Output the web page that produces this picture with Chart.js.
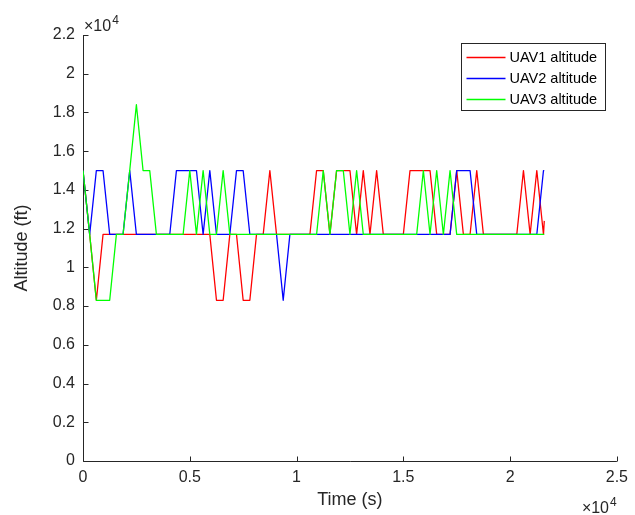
<!DOCTYPE html>
<html>
<head>
<meta charset="utf-8">
<script src="https://cdn.jsdelivr.net/npm/chart.js@4.4.0/dist/chart.umd.min.js"></script>
<style>
html, body { margin: 0; padding: 0; background: #fff; }
#wrap { width: 635px; height: 515px; }
</style>
</head>
<body>
<div id="wrap"><canvas id="altChart"></canvas></div>
<script>
// time samples (s)
const times = [
    0, 313, 625, 938, 1250, 1563, 1875, 2188, 2500, 2813,
    3125, 3438, 3750, 4063, 4375, 4688, 5000, 5313, 5625, 5938,
    6250, 6563, 6875, 7188, 7500, 7813, 8125, 8438, 8750, 9063,
    9375, 9688, 10000, 10313, 10625, 10938, 11250, 11563, 11875, 12188,
    12500, 12813, 13125, 13438, 13750, 14063, 14375, 14688, 15000, 15313,
    15625, 15938, 16250, 16563, 16875, 17188, 17500, 17813, 18125, 18438,
    18750, 19063, 19375, 19688, 20000, 20313, 20625, 20938, 21250, 21563,
    21600
];

// altitude (ft)
const uav1Alt = [
    15000, 11700, 8300, 11700, 11700, 11700, 11700, 11700, 11700, 11700,
    11700, 11700, 11700, 11700, 11700, 11700, 11700, 11700, 11700, 11700,
    8300, 8300, 11700, 11700, 8300, 8300, 11700, 11700, 15000, 11700,
    11700, 11700, 11700, 11700, 11700, 15000, 15000, 11700, 15000, 15000,
    15000, 11700, 15000, 11700, 15000, 11700, 11700, 11700, 11700, 15000,
    15000, 15000, 15000, 11700, 11700, 11700, 15000, 11700, 11700, 15000,
    11700, 11700, 11700, 11700, 11700, 11700, 15000, 11700, 15000, 11700,
    12400
];
const uav2Alt = [
    15000, 11700, 15000, 15000, 11700, 11700, 11700, 15000, 11700, 11700,
    11700, 11700, 11700, 11700, 15000, 15000, 15000, 15000, 11700, 15000,
    11700, 11700, 11700, 15000, 15000, 11700, 11700, 11700, 11700, 11700,
    8300, 11700, 11700, 11700, 11700, 11700, 11700, 11700, 11700, 11700,
    11700, 11700, 11700, 11700, 11700, 11700, 11700, 11700, 11700, 11700,
    11700, 11700, 11700, 11700, 11700, 11700, 15000, 15000, 15000, 11700,
    11700, 11700, 11700, 11700, 11700, 11700, 11700, 11700, 11700, 15000,
    15000
];
const uav3Alt = [
    15000, 11700, 8300, 8300, 8300, 11700, 11700, 15000, 18400, 15000,
    15000, 11700, 11700, 11700, 11700, 11700, 15000, 11700, 15000, 11700,
    11700, 15000, 11700, 11700, 11700, 11700, 11700, 11700, 11700, 11700,
    11700, 11700, 11700, 11700, 11700, 11700, 15000, 11700, 15000, 15000,
    11700, 15000, 11700, 11700, 11700, 11700, 11700, 11700, 11700, 11700,
    11700, 15000, 11700, 15000, 11700, 15000, 11700, 11700, 11700, 11700,
    11700, 11700, 11700, 11700, 11700, 11700, 11700, 11700, 11700, 11700,
    11700
];

const seriesLabels = ['UAV1 altitude', 'UAV2 altitude', 'UAV3 altitude'];
const seriesColors = ['#ff0000', '#0000ff', '#00ff00'];
const xTicks = [0, 5000, 10000, 15000, 20000, 25000];
const yTicks = [0, 2000, 4000, 6000, 8000, 10000, 12000, 14000, 16000, 18000, 20000, 22000];

const FONT = '"Liberation Sans", Arial, Helvetica, sans-serif';
const AXIS_COLOR = '#262626';

function toPoints(vals) {
    return vals.map((v, i) => ({ x: times[i], y: v }));
}

function fmtTick(v) {
    return String(Number((v / 1e4).toFixed(1)));
}

// MATLAB-ish axes: left + bottom lines, inward ticks, x10^4 factors, boxed legend
const matlabAxes = {
    id: 'matlabAxes',
    beforeDatasetsDraw(chart) {
        const { ctx, chartArea: a, scales: { x, y } } = chart;
        ctx.save();
        ctx.strokeStyle = AXIS_COLOR;
        ctx.lineWidth = 1;
        ctx.beginPath();
        const left = Math.round(a.left) + 0.5;
        const bottom = Math.round(a.bottom) + 0.5;
        ctx.moveTo(left, a.top);
        ctx.lineTo(left, bottom);
        ctx.lineTo(a.right, bottom);
        xTicks.forEach(v => {
            const px = Math.round(x.getPixelForValue(v)) + 0.5;
            ctx.moveTo(px, bottom);
            ctx.lineTo(px, bottom - 5);
        });
        yTicks.forEach(v => {
            const py = Math.round(y.getPixelForValue(v)) + 0.5;
            ctx.moveTo(left, py);
            ctx.lineTo(left + 5, py);
        });
        ctx.stroke();
        ctx.restore();
    },
    afterDraw(chart) {
        const { ctx, chartArea: a } = chart;
        ctx.save();
        ctx.fillStyle = AXIS_COLOR;
        ctx.textBaseline = 'alphabetic';
        ctx.textAlign = 'left';

        const drawFactor = (x0, yBase) => {
            ctx.font = '16px ' + FONT;
            ctx.fillText('\u00d710', x0, yBase);
            const w = ctx.measureText('\u00d710').width;
            ctx.font = '12px ' + FONT;
            ctx.fillText('4', x0 + w + 1, yBase - 7);
        };
        drawFactor(a.left + 1, a.top - 4);
        drawFactor(a.right - 35, a.bottom + 52);

        // legend
        const lx = 461.5, ly = 43.5, lw = 144, lh = 67;
        ctx.fillStyle = '#ffffff';
        ctx.fillRect(lx, ly, lw, lh);
        ctx.strokeStyle = AXIS_COLOR;
        ctx.lineWidth = 1;
        ctx.strokeRect(lx, ly, lw, lh);
        ctx.font = '14.5px ' + FONT;
        ctx.textBaseline = 'middle';
        seriesLabels.forEach((lab, i) => {
            const yy = Math.round(ly + 13 + i * 21) + 0.5;
            ctx.strokeStyle = seriesColors[i];
            ctx.lineWidth = 1.3;
            ctx.beginPath();
            ctx.moveTo(lx + 5, yy);
            ctx.lineTo(lx + 44, yy);
            ctx.stroke();
            ctx.fillStyle = '#000000';
            ctx.fillText(lab, lx + 48, yy);
        });
        ctx.restore();
    }
};

const ctx = document.getElementById('altChart').getContext('2d');
const altChart = new Chart(ctx, {
    type: 'line',
    data: {
        datasets: [
            { label: seriesLabels[0], data: toPoints(uav1Alt), borderColor: seriesColors[0], order: 2 },
            { label: seriesLabels[1], data: toPoints(uav2Alt), borderColor: seriesColors[1], order: 1 },
            { label: seriesLabels[2], data: toPoints(uav3Alt), borderColor: seriesColors[2], order: 0 }
        ]
    },
    options: {
        responsive: true,
        maintainAspectRatio: false,
        animation: false,
        datasets: {
            line: { borderWidth: 1.3, borderJoinStyle: 'round', pointRadius: 0, tension: 0, fill: false }
        },
        layout: { padding: { left: 0, top: 35, right: 13, bottom: 0 } },
        scales: {
            x: {
                type: 'linear',
                min: 0,
                max: 25000,
                afterBuildTicks: s => { s.ticks = xTicks.map(v => ({ value: v })); },
                afterFit: s => { s.height = 54; },
                ticks: {
                    callback: fmtTick,
                    color: AXIS_COLOR,
                    font: { family: FONT, size: 16 },
                    padding: 7,
                    maxRotation: 0,
                    autoSkip: false
                },
                grid: { display: false, drawTicks: false },
                border: { display: false },
                title: {
                    display: true,
                    text: 'Time (s)',
                    color: AXIS_COLOR,
                    font: { family: FONT, size: 18 },
                    padding: { top: 0, bottom: 4 }
                }
            },
            y: {
                type: 'linear',
                min: 0,
                max: 22000,
                afterBuildTicks: s => { s.ticks = yTicks.map(v => ({ value: v })); },
                afterFit: s => { s.width = 83; },
                ticks: {
                    callback: fmtTick,
                    color: AXIS_COLOR,
                    font: { family: FONT, size: 16 },
                    padding: 8,
                    autoSkip: false
                },
                grid: { display: false, drawTicks: false },
                border: { display: false },
                title: {
                    display: true,
                    text: 'Altitude (ft)',
                    color: AXIS_COLOR,
                    font: { family: FONT, size: 18 },
                    padding: { top: 11, bottom: 0 }
                }
            }
        },
        plugins: {
            legend: { display: false },
            tooltip: { enabled: false }
        }
    },
    plugins: [matlabAxes]
});
</script>
</body>
</html>
